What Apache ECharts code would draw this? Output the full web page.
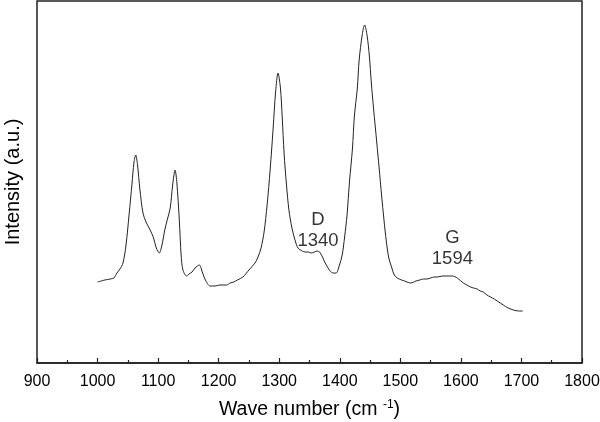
<!DOCTYPE html>
<html>
<head>
<meta charset="utf-8">
<script src="https://cdn.jsdelivr.net/npm/echarts@6/dist/echarts.min.js"></script>
<style>html,body{margin:0;padding:0;background:#fff;}#chart{width:600px;height:422px;}</style>
</head>
<body>
<div id="chart"></div>
<script>
// Raman spectrum, wavenumber (cm-1) and intensity (arbitrary units)
const waveNumbers = [1000,1012,1021,1027,1032,1037,1042,1047,1052,1057,1060,1063,1066,1070,1075,1080,1086,1092,1097,1102,1106,1111,1115,1120,1124,1128,1131,1135,1138,1141,1147,1151,1156,1161,1168,1173,1178,1186,1194,1202,1213,1219,1225,1231,1240,1250,1260,1265,1270,1275,1280,1285,1290,1294,1298,1302,1305,1308,1312,1316,1321,1326,1331,1338,1343,1348,1353,1358,1363,1368,1376,1384,1389,1394,1399,1404,1408,1412,1416,1421,1424,1429,1432,1437,1441,1445,1449,1452,1456,1461,1465,1469,1473,1477,1481,1486,1490,1495,1502,1507,1511,1517,1526,1532,1538,1544,1550,1556,1561,1570,1580,1586,1594,1604,1610,1616,1621,1627,1632,1637,1643,1649,1655,1660,1665,1670,1678,1687,1695,1702];
const intensity = [81,83,84,85,90,94,100,118,148,180,200,208,198,173,150,141,134,126,115,110,117,133,143,155,178,193,180,143,108,93,87,89,91,95,98,91,83,77,77,78,78,80,81,83,86,93,100,106,115,131,158,193,235,271,290,275,245,210,178,153,135,123,115,112,111,111,110,111,112,110,100,92,90,90,97,108,126,148,181,215,246,275,303,328,338,328,306,281,253,221,195,168,143,121,105,95,88,85,83,82,81,80,82,83,84,84,85,86,86,87,87,87,85,80,78,76,75,74,72,71,68,66,64,62,60,58,55,53,52,52];
const xTicks = [900, 1800, 100];
const annotations = [
  {text: 'D\n1340', x: 1364, y: 133},
  {text: 'G\n1594', x: 1586, y: 115}
];

const chart = echarts.init(document.getElementById('chart'));
const font = 'Liberation Sans, Arial, sans-serif';
chart.setOption({
  animation: false,
  grid: {left: 37, top: 1, right: 18, bottom: 59, show: true, borderColor: '#222', borderWidth: 1.5,
    backgroundColor: 'transparent', containLabel: false, outerBoundsMode: 'none'},
  xAxis: {
    type: 'value', min: xTicks[0], max: xTicks[1], interval: xTicks[2],
    axisLine: {onZero: false, lineStyle: {color: '#222', width: 1.5}},
    axisTick: {inside: true, length: 5, lineStyle: {color: '#222', width: 1.2}},
    minorTick: {show: true, splitNumber: 2, length: 3, lineStyle: {color: '#222', width: 1.2}},
    axisLabel: {color: '#000', fontFamily: font, fontSize: 16, margin: 11, formatter: v => String(v)},
    splitLine: {show: false},
    name: 'Wave number (cm {sup|-1})',
    nameLocation: 'middle', nameGap: 36,
    nameTextStyle: {color: '#000', fontFamily: font, fontSize: 19.5,
      rich: {sup: {fontSize: 12, fontFamily: font, color: '#000', verticalAlign: 'top', padding: [0,0,10,0]}}}
  },
  yAxis: {
    type: 'value', min: 0, max: 362,
    axisLine: {show: false}, axisTick: {show: false}, axisLabel: {show: false}, splitLine: {show: false},
    name: 'Intensity (a.u.)', nameLocation: 'middle', nameGap: 14,
    nameTextStyle: {color: '#000', fontFamily: font, fontSize: 20}
  },
  series: [
    {
      type: 'line', data: waveNumbers.map((w, i) => [w, intensity[i]]),
      showSymbol: false, smooth: 0.3,
      lineStyle: {color: '#222', width: 1}
    },
    {
      type: 'scatter', symbolSize: 0,
      data: annotations.map(a => ({value: [a.x, a.y], name: a.text})),
      label: {show: true, position: 'inside', formatter: p => p.name, color: '#000',
        fontFamily: font, fontSize: 18.5, lineHeight: 21, align: 'center', textBorderWidth: 0}
    }
  ]
});
</script>
</body>
</html>
